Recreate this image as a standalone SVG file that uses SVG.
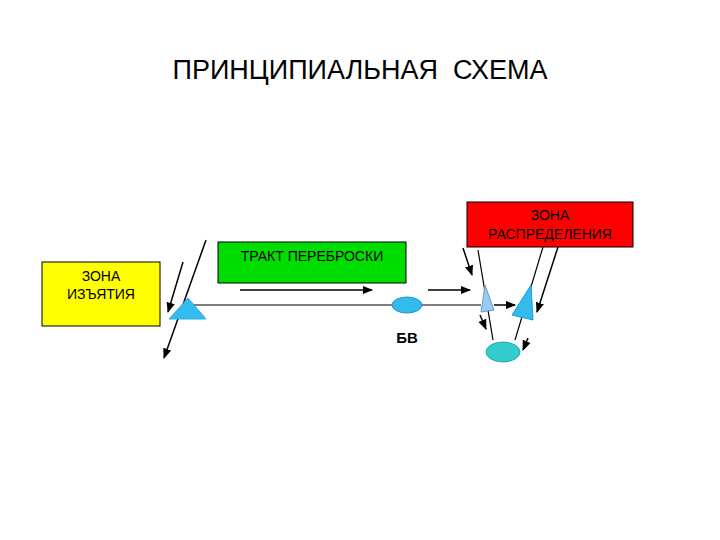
<svg xmlns="http://www.w3.org/2000/svg" width="720" height="540" viewBox="0 0 720 540">
<defs><marker id="a" viewBox="0 0 10 10" refX="9" refY="5" markerWidth="7" markerHeight="7" orient="auto"><path d="M0,1L10,5L0,9z" fill="#000"/></marker>
<style>.t{font-family:"Liberation Sans",Arial,sans-serif;fill:#000}.l{stroke:#000;stroke-width:1.2;fill:none}.ar{stroke:#000;stroke-width:1.5;fill:none;marker-end:url(#a)}</style></defs>
<rect width="720" height="540" fill="#fff"/>
<text class="t" x="360" y="79" font-size="27" text-anchor="middle" xml:space="preserve">ПРИНЦИПИАЛЬНАЯ  СХЕМА</text>
<g id="zona-izyatiya"><rect x="42" y="262" width="118" height="64" fill="#ffff00" stroke="#000"/><text class="t" x="101" y="281" font-size="14" text-anchor="middle">ЗОНА</text><text class="t" x="101" y="299" font-size="14" text-anchor="middle">ИЗЪЯТИЯ</text></g>
<g id="trakt"><rect x="218" y="242" width="188" height="41" fill="#00dd00" stroke="#000"/><text class="t" x="312" y="261" font-size="14" text-anchor="middle">ТРАКТ ПЕРЕБРОСКИ</text></g>
<g id="zona-raspredeleniya"><rect x="467" y="202" width="166" height="45" fill="#ff0000" stroke="#000"/><text class="t" x="550" y="220" font-size="14" text-anchor="middle">ЗОНА</text><text class="t" x="550" y="239" font-size="14" text-anchor="middle">РАСПРЕДЕЛЕНИЯ</text></g>
<g id="connectors">
<line class="l" x1="188" y1="305" x2="481" y2="305"/>
<line class="ar" x1="206" y1="240" x2="164" y2="358"/>
<line class="ar" x1="183" y1="262" x2="168" y2="312"/>
<line class="ar" x1="240" y1="290" x2="372" y2="290"/>
<line class="ar" x1="428" y1="290" x2="470" y2="290"/>
<line class="ar" x1="463" y1="248" x2="472" y2="275"/>
<line class="l" x1="478" y1="250" x2="493" y2="340"/>
<line class="l" x1="543" y1="247" x2="515" y2="340"/>
<line class="ar" x1="558" y1="247" x2="537" y2="312"/>
<line class="ar" x1="494" y1="305" x2="515" y2="305"/>
<line class="ar" x1="480" y1="315" x2="486" y2="329"/>
<line class="ar" x1="528" y1="338" x2="523" y2="350"/>
</g>
<g id="tri-left"><polygon points="188,298 169,319 206,319" fill="#33bbee" stroke="#33aadd"/></g>
<g id="bv"><ellipse cx="407" cy="305" rx="15" ry="8" fill="#33bbee" stroke="#2299cc"/><text class="t" x="407" y="343" font-size="15" font-weight="bold" text-anchor="middle">БВ</text></g>
<g id="tri-light"><polygon points="485,285 481,312 494,310" fill="#99ccee" stroke="#6699cc"/></g>
<g id="tri-blue"><polygon points="531,285 512,315 533,320" fill="#33bbee" stroke="#2299cc"/></g>
<g id="reservoir"><ellipse cx="503" cy="352" rx="17" ry="10" fill="#33cccc" stroke="#22aaaa"/></g>
</svg>
